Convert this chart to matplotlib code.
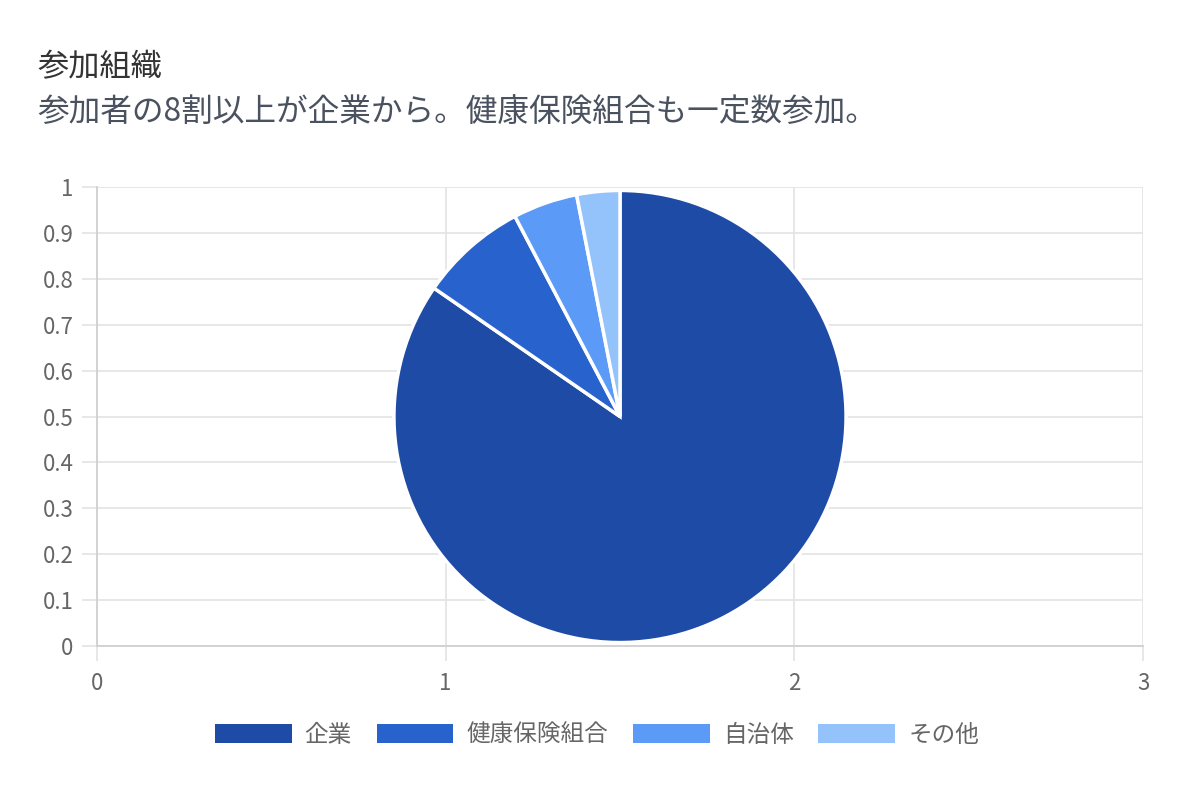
import matplotlib.pyplot as plt
from matplotlib.patches import Patch

plt.rcParams['font.family'] = ['Noto Sans CJK JP', 'DejaVu Sans']

labels = ["企業", "健康保険組合", "自治体", "その他"]
counts = [55, 5, 3, 2]
colors = ["#1E4BA6", "#2862CC", "#5B9AF6", "#93C3FA"]

x_ticks = [0, 1, 2, 3]
y_ticks = [0, 0.1, 0.2, 0.3, 0.4, 0.5, 0.6, 0.7, 0.8, 0.9, 1]
y_labels = ["0", "0.1", "0.2", "0.3", "0.4", "0.5", "0.6", "0.7", "0.8", "0.9", "1"]

fig = plt.figure(figsize=(11.98, 8.08), dpi=100)
pos = [97 / 1198, 162 / 808, 1046 / 1198, 459 / 808]

ax = fig.add_axes(pos)
ax.set_xlim(0, 3)
ax.set_ylim(0, 1)
ax.set_xticks(x_ticks)
ax.set_yticks(y_ticks)
ax.set_yticklabels(y_labels)
ax.grid(True, color="#e3e3e3", linewidth=1.2)
ax.set_axisbelow(True)
for s in ["top", "right"]:
    ax.spines[s].set_visible(False)
for s in ["bottom", "left"]:
    ax.spines[s].set_color("#d0d0d0")
    ax.spines[s].set_linewidth(1.3)
ax.tick_params(axis="both", colors="#e3e3e3", labelcolor="#666666",
               labelsize=16, length=11, width=1.2)
ax.tick_params(axis="x", pad=8)
ax.tick_params(axis="y", pad=6)

pax = fig.add_axes(pos)
pax.set_aspect("equal")
pax.axis("off")
pax.pie(counts, colors=colors, startangle=90, counterclock=False,
        radius=0.985,
        wedgeprops=dict(edgecolor="white", linewidth=2.5))
pax.set_xlim(-1, 1)
pax.set_ylim(-1, 1)

fig.text(37 / 1198, 1 - 67 / 808, "参加組織", fontsize=22.5,
         color="#333333", va="center", ha="left")
fig.text(37 / 1198, 1 - 113 / 808,
         "参加者の8割以上が企業から。健康保険組合も一定数参加。",
         fontsize=22.8, color="#4a5260", va="center", ha="left")

handles = [Patch(facecolor=c, edgecolor="none") for c in colors]
fig.legend(handles, labels, loc="center", bbox_to_anchor=(597 / 1198, 1 - 735 / 808),
           ncol=4, frameon=False, fontsize=17, labelcolor="#666666",
           handlelength=3.25, handleheight=0.85, handletextpad=0.55,
           columnspacing=1.05)

fig.savefig("out.png", dpi=100)
plt.close()
